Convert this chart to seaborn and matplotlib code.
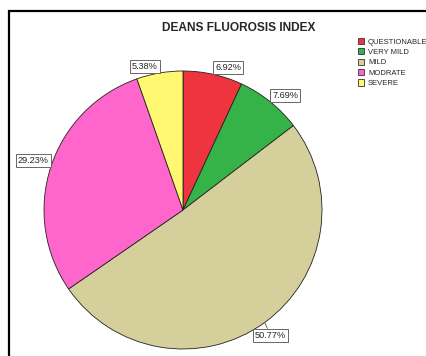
import numpy as np
import matplotlib
matplotlib.use("Agg")
import matplotlib.pyplot as plt
from matplotlib.patches import Rectangle
import seaborn as sns

# Dean's fluorosis index: share of subjects per category
categories = ["QUESTIONABLE", "VERY MILD", "MILD", "MODRATE", "SEVERE"]
percentages = [6.92, 7.69, 50.77, 29.23, 5.38]
colors = ["#EE343E", "#35B248", "#D4CF9B", "#FF66CC", "#FFF870"]
title = "DEANS FLUOROSIS INDEX"

sns.set_style("white")
plt.rcParams["font.family"] = ["Liberation Sans", "DejaVu Sans"]

W, H = 427, 356
fig = plt.figure(figsize=(W / 100, H / 100), dpi=100)
fig.patch.set_facecolor("white")

# outer chart frame (left and top edges visible)
fig.patches.append(Rectangle((8.5 / W, -0.1), 1.2, (H - 10.5) / H + 0.1,
                             transform=fig.transFigure, fill=False,
                             edgecolor="black", linewidth=1.6))

# square pie axes: centre (183, 210) px, radius 139 px
cx, cy, r = 183, 210, 139
ax = fig.add_axes([(cx - r) / W, (H - cy - r) / H, 2 * r / W, 2 * r / H])
wedges, _ = ax.pie(percentages, colors=colors, startangle=90, counterclock=False,
                   radius=1.0,
                   wedgeprops=dict(edgecolor="#222222", linewidth=0.6))
ax.set_xlim(-1, 1)
ax.set_ylim(-1, 1)
ax.set_axis_off()

lab_size = 6.6
box = dict(boxstyle="square,pad=0.22", facecolor="white", edgecolor="#666666",
           linewidth=0.7)
pad = 0.22 * lab_size
largest = int(np.argmax(percentages))
for i, (w, p) in enumerate(zip(wedges, percentages)):
    mid = np.deg2rad((w.theta1 + w.theta2) / 2)
    x, y = np.cos(mid), np.sin(mid)
    text = f"{p:.2f}%"
    if i == largest:
        ax.annotate(text, xy=(x, y), xytext=(4, -6), textcoords="offset points",
                    ha="center", va="top", fontsize=lab_size, bbox=box,
                    arrowprops=dict(arrowstyle="-", color="#555555", lw=0.6,
                                    shrinkA=0, shrinkB=0))
    else:
        ha = "left" if x > 0 else "right"
        va = "bottom" if y > 0 else "top"
        ox = pad if x > 0 else -pad
        oy = pad if y > 0 else -pad
        ax.annotate(text, xy=(x, y), xytext=(ox, oy), textcoords="offset points",
                    ha=ha, va=va, fontsize=lab_size, bbox=box)

fig.text(239 / W, 1 - 28 / H, title, ha="center", va="center",
         fontsize=8.6, fontweight="bold")

leg = fig.legend(wedges, categories, loc="upper left",
                 bbox_to_anchor=(358 / W, 1 - 38 / H), frameon=False,
                 fontsize=5.5, handlelength=0.85, handleheight=0.85,
                 handletextpad=0.45, labelspacing=0.35, borderpad=0,
                 borderaxespad=0)
for h in leg.legend_handles:
    h.set_edgecolor("#333333")
    h.set_linewidth(0.6)

fig.savefig("out.png", dpi=100)
